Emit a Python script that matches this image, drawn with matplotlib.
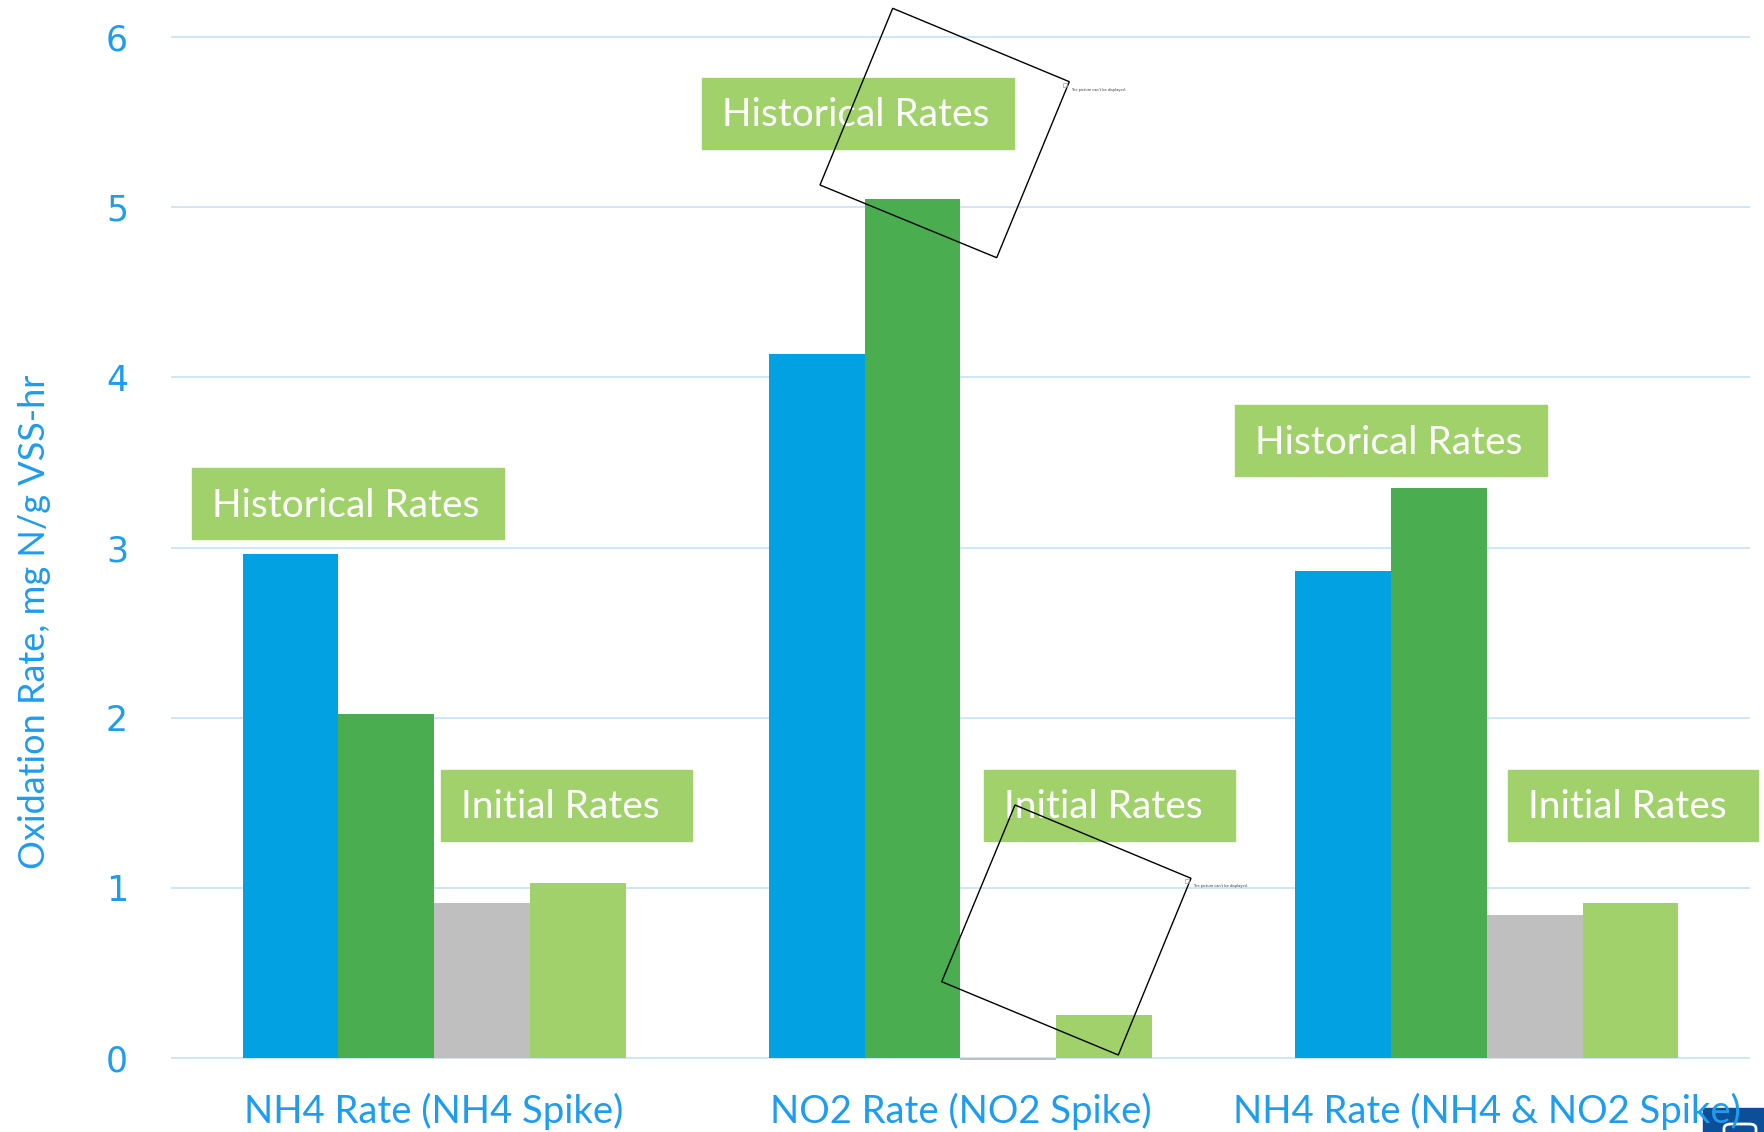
import numpy as np
import matplotlib.pyplot as plt
from matplotlib.patches import Rectangle, Polygon, FancyBboxPatch
from matplotlib.transforms import blended_transform_factory

# Oxidation rates per test, mg N/g VSS-hr
categories = ["NH4 Rate (NH4 Spike)", "NO2 Rate (NO2 Spike)", "NH4 Rate (NH4 & NO2 Spike)"]
hist_a = [2.96, 4.14, 2.86]
hist_b = [2.02, 5.05, 3.35]
init_a = [0.91, -0.01, 0.84]
init_b = [1.03, 0.25, 0.91]

W, H = 1765, 1132
DPI = 100
text_blue = "#1E9CF0"
grid_blue = "#CDE6F8"
box_green = "#A0D16A"

fig = plt.figure(figsize=(W / DPI, H / DPI), dpi=DPI)


def fx(x):
    return x / W


def fy(y):
    return 1 - y / H


# axes placed so that 0..6 spans the plot area
ymin, ymax = -0.05, 6.05
unit = (1058 - 37.1) / 6
ax = fig.add_axes([fx(171), fy(1058 + 0.05 * unit), fx(1750) - fx(171),
                   (6.1 * unit) / H])

x = np.arange(len(categories))
w = 0.182
series = [hist_a, hist_b, init_a, init_b]
colors = ["#02A2E2", "#4AAD50", "#BFBFBF", box_green]
for i, (vals, c) in enumerate(zip(series, colors)):
    ax.bar(x + (i - 1.5) * w, vals, w, color=c, zorder=3)

ax.set_xlim(-0.5, 2.5)
ax.set_ylim(ymin, ymax)
ax.set_yticks(range(7))
ax.yaxis.grid(True, color=grid_blue, lw=1.4, zorder=0)
ax.set_axisbelow(True)
for s in ax.spines.values():
    s.set_visible(False)
ax.tick_params(axis="y", length=0, pad=31, labelsize=25, labelcolor=text_blue)
ax.set_xticks([])
for t in ax.get_yticklabels():
    t.set_family("DejaVu Sans")

# category names sit on a common baseline near the bottom edge
trans = blended_transform_factory(ax.transData, fig.transFigure)
for xi, name in zip(x, categories):
    ax.text(xi, fy(1123), name, transform=trans, ha="center", va="baseline",
            color=text_blue, fontsize=27.5, family="Lato", clip_on=False)

fig.text(fx(35), fy(622), "Oxidation Rate, mg N/g VSS-hr", rotation=90,
         ha="center", va="center", color=text_blue, fontsize=26, family="Lato")

# green call-out boxes
boxes = [
    ("Historical Rates", 192.5, 468.2, 311.8),
    ("Historical Rates", 702.4, 77.7, 311.8),
    ("Historical Rates", 1234.8, 405.2, 311.8),
    ("Initial Rates", 441.2, 770.0, 251.0),
    ("Initial Rates", 983.8, 770.0, 251.0),
    ("Initial Rates", 1508.3, 770.0, 250.0),
]
bh = 71
for label, bx, by, bw in boxes:
    fig.patches.append(Rectangle((fx(bx), fy(by + bh)), bw / W, bh / H,
                                 transform=fig.transFigure, color=box_green,
                                 zorder=5))
    fig.text(fx(bx + 20), fy(by + bh / 2 + 2), label, ha="left", va="center",
             color="white", fontsize=28, family="Lato", zorder=6)

# broken picture placeholders
frames = [
    [(892.7, 8.3), (1069.3, 81.7), (996.7, 257.7), (820.0, 185.0)],
    [(1015.0, 805.0), (1191.0, 878.3), (1118.3, 1055.0), (941.7, 981.7)],
]
for pts in frames:
    fig.patches.append(Polygon([(fx(a), fy(b)) for a, b in pts], closed=True,
                               fill=False, ec="black", lw=1.0,
                               transform=fig.transFigure, zorder=7))
    rx, ry = pts[1]
    fig.text(fx(rx + 2), fy(ry + 8), "The picture can't be displayed.",
             fontsize=2.5, color="#333333", ha="left", va="center", zorder=7)
    fig.patches.append(Rectangle((fx(rx - 6), fy(ry + 5)), 4 / W, 4 / H,
                                 transform=fig.transFigure, fill=False,
                                 ec="#E08080", lw=0.5, zorder=7))

# corner logo, kept behind the category text
fig.patches.append(Rectangle((fx(1703), 0), (W - 1703) / W, (H - 1108) / H,
                             transform=fig.transFigure, color="#0A4F98",
                             zorder=-2))
fig.patches.append(FancyBboxPatch((fx(1724), fy(1140)), 32 / W, 16 / H,
                                  boxstyle="round,pad=0,rounding_size=0.004",
                                  transform=fig.transFigure, fill=False,
                                  ec="white", lw=2.0, zorder=-1))

fig.savefig("out.png", dpi=DPI)
